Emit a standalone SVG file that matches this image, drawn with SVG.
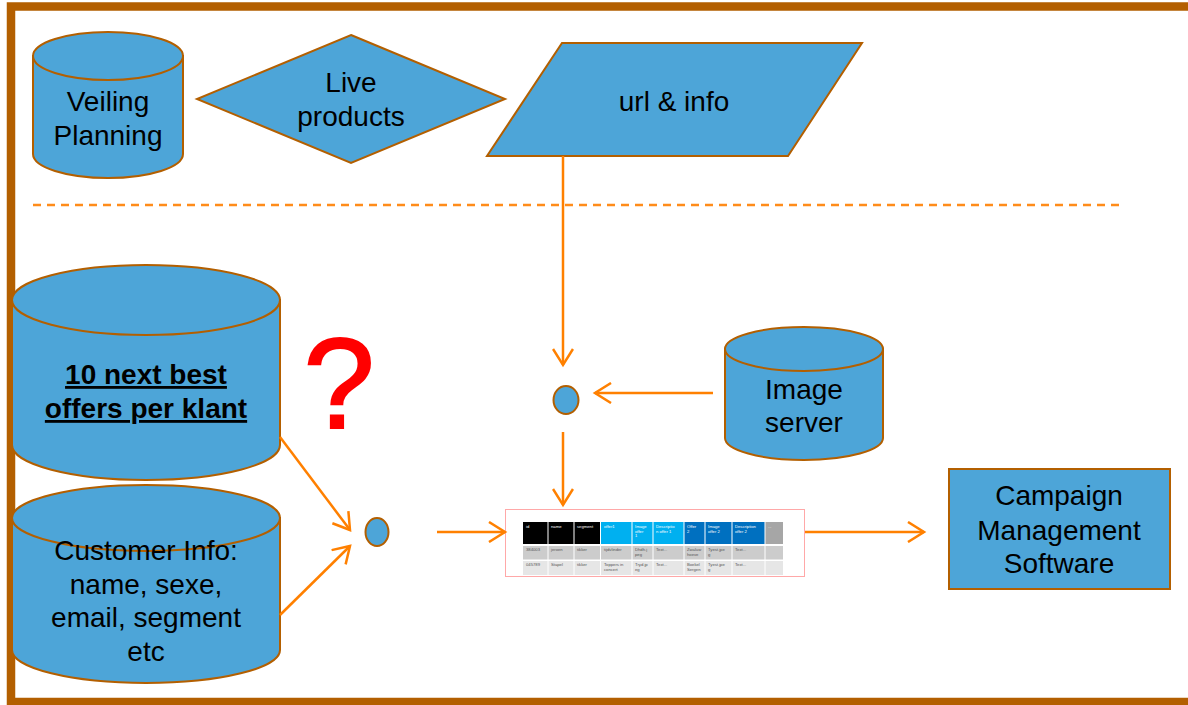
<svg xmlns="http://www.w3.org/2000/svg" width="1188" height="705" viewBox="0 0 1188 705">
<defs>
<marker id="arr" viewBox="0 0 20 22" refX="17" refY="11" markerWidth="20" markerHeight="22" markerUnits="userSpaceOnUse" orient="auto">
<path d="M1,1 L17,11 L1,21" fill="none" stroke="#ff8000" stroke-width="2.5"/>
</marker>
<style>
.shape{fill:#4da5d8;stroke:#b35f00;stroke-width:2}
.lbl{font-family:"Liberation Sans",Arial,sans-serif;font-size:28px;fill:#000;text-anchor:middle}
.conn{stroke:#ff8000;stroke-width:2.5;fill:none;marker-end:url(#arr)}
.th{font-family:"Liberation Sans",Arial,sans-serif;font-size:4.2px;fill:#fff}
.td{font-family:"Liberation Sans",Arial,sans-serif;font-size:4.2px;fill:#555}
</style>
</defs>
<rect width="1188" height="705" fill="#fff"/>
<rect x="11" y="6.5" width="1200" height="695.5" fill="none" stroke="#b35f00" stroke-width="8.5"/>
<line x1="33" y1="205" x2="1120" y2="205" stroke="#ff8c1a" stroke-width="2.5" stroke-dasharray="8,6"/>

<g id="veiling-planning">
<path class="shape" d="M33,56 V154 A75,24 0 0 0 183,154 V56 Z"/>
<ellipse class="shape" cx="108" cy="56" rx="75" ry="24"/>
<text class="lbl" x="108" y="111">Veiling</text>
<text class="lbl" x="108" y="145">Planning</text>
</g>

<g id="live-products">
<polygon class="shape" points="351,35 505,99 351,163 197,99"/>
<text class="lbl" x="351" y="92">Live</text>
<text class="lbl" x="351" y="126">products</text>
</g>

<g id="url-info">
<polygon class="shape" points="562,43 862,43 788,156 487,156"/>
<text class="lbl" x="674" y="111">url &amp; info</text>
</g>

<g id="next-best-offers">
<path class="shape" d="M12,300 V445 A134,35 0 0 0 280,445 V300 Z"/>
<ellipse class="shape" cx="146" cy="300" rx="134" ry="35"/>
<text class="lbl" x="146" y="384" font-weight="bold" text-decoration="underline">10 next best</text>
<text class="lbl" x="146" y="418" font-weight="bold" text-decoration="underline">offers per klant</text>
</g>

<g id="customer-info">
<path class="shape" d="M12,518 V650 A134,33 0 0 0 280,650 V518 Z"/>
<ellipse class="shape" cx="146" cy="518" rx="134" ry="33"/>
<text class="lbl" x="146" y="560">Customer Info:</text>
<text class="lbl" x="146" y="594">name, sexe,</text>
<text class="lbl" x="146" y="627">email, segment</text>
<text class="lbl" x="146" y="661">etc</text>
</g>

<g id="question">
<text x="339" y="428" font-family="'Liberation Sans',Arial,sans-serif" font-size="128" fill="#ff0000" stroke="#ff0000" stroke-width="2" text-anchor="middle">?</text>
</g>

<g id="join-left">
<ellipse class="shape" cx="377" cy="532" rx="11.5" ry="14"/>
</g>

<g id="join-mid">
<ellipse class="shape" cx="566" cy="400" rx="12.5" ry="14"/>
</g>

<g id="image-server">
<path class="shape" d="M725,349 V438 A79,22 0 0 0 883,438 V349 Z"/>
<ellipse class="shape" cx="804" cy="349" rx="79" ry="22"/>
<text class="lbl" x="804" y="399">Image</text>
<text class="lbl" x="804" y="432">server</text>
</g>

<g id="table">
<rect x="505.5" y="509.5" width="299" height="67" fill="#fff" stroke="#ff5050" stroke-width="1" stroke-dasharray="1,1"/>
<g>
<rect x="523" y="522" width="24.5" height="22" fill="#000"/>
<rect x="548.5" y="522" width="25" height="22" fill="#000"/>
<rect x="574.5" y="522" width="25.5" height="22" fill="#000"/>
<rect x="601" y="522" width="30.5" height="22" fill="#00b0f0"/>
<rect x="632.5" y="522" width="20" height="22" fill="#00b0f0"/>
<rect x="653.5" y="522" width="30" height="22" fill="#00b0f0"/>
<rect x="684.5" y="522" width="20" height="22" fill="#0070c0"/>
<rect x="705.5" y="522" width="26" height="22" fill="#0070c0"/>
<rect x="732.5" y="522" width="32" height="22" fill="#0070c0"/>
<rect x="765.5" y="522" width="17.5" height="22" fill="#a6a6a6"/>
<rect x="523" y="546" width="260" height="13.5" fill="#cccccc"/>
<rect x="523" y="561" width="260" height="14" fill="#e6e6e6"/>
<g stroke="#fff" stroke-width="1">
<line x1="548" y1="546" x2="548" y2="575"/><line x1="574" y1="546" x2="574" y2="575"/><line x1="600.5" y1="546" x2="600.5" y2="575"/>
<line x1="632" y1="546" x2="632" y2="575"/><line x1="653" y1="546" x2="653" y2="575"/><line x1="684" y1="546" x2="684" y2="575"/>
<line x1="705" y1="546" x2="705" y2="575"/><line x1="732" y1="546" x2="732" y2="575"/><line x1="765" y1="546" x2="765" y2="575"/>
</g>
</g>
<text class="th" x="526" y="528">id</text>
<text class="th" x="551" y="528">name</text>
<text class="th" x="577" y="528">segment</text>
<text class="th" x="604" y="528">offer1</text>
<text class="th" x="635" y="528">Image<tspan x="635" dy="4.5">offer</tspan><tspan x="635" dy="4.5">1</tspan></text>
<text class="th" x="656" y="528">Descriptio<tspan x="656" dy="4.5">n offer 1</tspan></text>
<text class="th" x="687" y="528">Offer<tspan x="687" dy="4.5">2</tspan></text>
<text class="th" x="708" y="528">Image<tspan x="708" dy="4.5">offer 2</tspan></text>
<text class="th" x="735" y="528">Description<tspan x="735" dy="4.5">offer 2</tspan></text>
<text class="th" x="768" y="528">...</text>
<text class="td" x="526" y="551">384003</text>
<text class="td" x="551" y="551">jeroen</text>
<text class="td" x="577" y="551">tikker</text>
<text class="td" x="604" y="551">tijdvlinder</text>
<text class="td" x="635" y="551">Dhdh.j<tspan x="635" dy="4.5">peg</tspan></text>
<text class="td" x="656" y="551">Text...</text>
<text class="td" x="687" y="551">Zwaluw<tspan x="687" dy="4.5">hoeve</tspan></text>
<text class="td" x="708" y="551">Tyest.jpe<tspan x="708" dy="4.5">g</tspan></text>
<text class="td" x="735" y="551">Text...</text>
<text class="td" x="526" y="566">045789</text>
<text class="td" x="551" y="566">Stapel</text>
<text class="td" x="577" y="566">tikker</text>
<text class="td" x="604" y="566">Toppers in<tspan x="604" dy="4.5">concert</tspan></text>
<text class="td" x="635" y="566">Tryd.jp<tspan x="635" dy="4.5">eg</tspan></text>
<text class="td" x="656" y="566">Text...</text>
<text class="td" x="687" y="566">Boekel<tspan x="687" dy="4.5">Sergen</tspan></text>
<text class="td" x="708" y="566">Tyest.jpe<tspan x="708" dy="4.5">g</tspan></text>
<text class="td" x="735" y="566">Text...</text>
</g>

<g id="campaign">
<rect class="shape" x="949" y="469" width="221" height="120" stroke-width="2.5"/>
<text class="lbl" x="1059" y="505">Campaign</text>
<text class="lbl" x="1059" y="540">Management</text>
<text class="lbl" x="1059" y="573">Software</text>
</g>

<g id="connectors">
<line class="conn" x1="563" y1="156" x2="563" y2="365"/>
<line class="conn" x1="713" y1="393" x2="595" y2="393"/>
<line class="conn" x1="563" y1="432" x2="563" y2="505"/>
<line class="conn" x1="280" y1="437" x2="350" y2="530"/>
<line class="conn" x1="280" y1="615" x2="350" y2="546"/>
<line class="conn" x1="437" y1="532" x2="505" y2="532"/>
<line class="conn" x1="805" y1="532" x2="924" y2="532"/>
</g>
</svg>
